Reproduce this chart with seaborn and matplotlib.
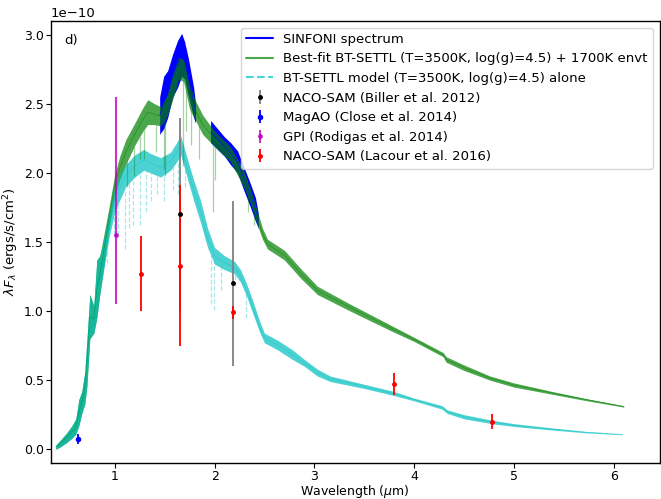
import numpy as np
import matplotlib
matplotlib.use('Agg')
import matplotlib.pyplot as plt
import seaborn as sns

# -------------------------------------------------
# data (flux in units of 1e-10 ergs/s/cm2)
# -------------------------------------------------
SCALE = 1e-10

# best-fit BT-SETTL + 1700K envelope : wavelength, lower / upper edge of noisy band
fit_wl = [0.41, 0.46, 0.52, 0.57, 0.61, 0.64, 0.67, 0.70, 0.72, 0.75, 0.79, 0.82,
          0.85, 0.89, 0.94, 1.00, 1.05, 1.11, 1.20, 1.28, 1.33, 1.40, 1.46, 1.52,
          1.58, 1.64, 1.69, 1.75, 1.81, 1.88, 1.96, 2.03, 2.16, 2.29, 2.36, 2.43,
          2.48, 2.53, 2.70, 2.86, 3.03, 3.36, 3.76, 4.00, 4.29, 4.32, 4.50, 4.76,
          5.00, 5.37, 5.70, 6.10]
fit_lo = [0.00, 0.02, 0.05, 0.08, 0.11, 0.17, 0.26, 0.33, 0.45, 0.80, 0.84, 0.95,
          1.12, 1.32, 1.58, 1.84, 1.95, 2.06, 2.20, 2.30, 2.35, 2.35, 2.34, 2.40,
          2.53, 2.68, 2.66, 2.46, 2.38, 2.28, 2.22, 2.17, 2.08, 1.90, 1.78, 1.62,
          1.52, 1.45, 1.37, 1.24, 1.12, 1.00, 0.86, 0.78, 0.67, 0.63, 0.57, 0.50,
          0.45, 0.40, 0.355, 0.305]
fit_hi = [0.03, 0.07, 0.12, 0.17, 0.22, 0.36, 0.42, 0.56, 0.78, 1.12, 1.04, 1.37,
          1.40, 1.55, 1.74, 1.99, 2.12, 2.24, 2.36, 2.47, 2.53, 2.50, 2.48, 2.56,
          2.72, 2.84, 2.82, 2.64, 2.52, 2.42, 2.34, 2.28, 2.19, 2.02, 1.88, 1.72,
          1.60, 1.52, 1.44, 1.31, 1.18, 1.05, 0.90, 0.81, 0.70, 0.67, 0.61, 0.53,
          0.48, 0.42, 0.37, 0.315]
fit_line_wl = [0.98, 1.12, 1.19, 1.25, 1.29, 1.41, 1.49, 1.50, 1.68, 1.71, 1.76,
               1.84, 1.98, 2.00, 2.33, 2.40]
fit_line_min = [1.75, 1.90, 1.98, 2.10, 2.10, 2.15, 2.03, 1.98, 2.05, 2.30, 2.20,
                2.10, 1.72, 1.95, 1.72, 1.62]

# BT-SETTL photosphere alone
mod_wl = [0.41, 0.46, 0.52, 0.57, 0.61, 0.64, 0.67, 0.70, 0.72, 0.75, 0.79, 0.82,
          0.85, 0.89, 0.94, 1.00, 1.06, 1.11, 1.20, 1.29, 1.36, 1.46, 1.56, 1.62,
          1.66, 1.72, 1.79, 1.86, 1.93, 2.00, 2.10, 2.20, 2.26, 2.32, 2.39, 2.45,
          2.50, 2.63, 2.78, 2.90, 3.03, 3.16, 3.50, 3.79, 4.00, 4.28, 4.33, 4.50,
          4.78, 5.00, 5.37, 5.70, 6.09]
mod_lo = [0.00, 0.02, 0.05, 0.08, 0.11, 0.17, 0.26, 0.33, 0.45, 0.80, 0.84, 0.95,
          1.12, 1.30, 1.52, 1.72, 1.82, 1.90, 1.97, 2.02, 2.00, 1.97, 2.02, 2.08,
          2.13, 1.98, 1.80, 1.64, 1.46, 1.34, 1.30, 1.27, 1.21, 1.11, 0.97, 0.85,
          0.77, 0.72, 0.65, 0.60, 0.53, 0.49, 0.44, 0.39, 0.35, 0.29, 0.26, 0.22,
          0.185, 0.165, 0.14, 0.12, 0.105]
mod_hi = [0.03, 0.07, 0.12, 0.17, 0.22, 0.36, 0.42, 0.56, 0.78, 1.12, 1.04, 1.37,
          1.40, 1.52, 1.70, 1.90, 2.00, 2.06, 2.13, 2.17, 2.14, 2.11, 2.15, 2.22,
          2.27, 2.12, 1.95, 1.80, 1.60, 1.46, 1.40, 1.36, 1.30, 1.20, 1.06, 0.93,
          0.84, 0.79, 0.72, 0.65, 0.58, 0.53, 0.47, 0.42, 0.37, 0.315, 0.285, 0.25,
          0.21, 0.185, 0.155, 0.13, 0.11]
mod_line_wl = [0.92, 0.99, 1.03, 1.10, 1.14, 1.18, 1.25, 1.31, 1.36, 1.42, 1.49,
               1.58, 1.63, 1.70, 1.96, 1.99, 2.06, 2.20, 2.31]
mod_line_min = [1.35, 1.55, 1.55, 1.45, 1.60, 1.62, 1.62, 1.72, 1.80, 1.85, 1.80,
                1.88, 1.85, 1.90, 1.05, 1.01, 1.15, 1.18, 0.95]

# SINFONI H and K band spectra
sinf_h_wl = [1.45, 1.49, 1.53, 1.58, 1.63, 1.67, 1.70, 1.74, 1.79, 1.81]
sinf_h_lo = [2.28, 2.32, 2.40, 2.55, 2.62, 2.70, 2.68, 2.55, 2.40, 2.36]
sinf_h_hi = [2.55, 2.70, 2.74, 2.86, 2.96, 3.01, 2.95, 2.82, 2.62, 2.50]
sinf_k_wl = [1.96, 2.03, 2.10, 2.16, 2.23, 2.29, 2.36, 2.41, 2.44]
sinf_k_lo = [2.22, 2.17, 2.12, 2.06, 2.00, 1.88, 1.75, 1.65, 1.60]
sinf_k_hi = [2.38, 2.32, 2.26, 2.22, 2.16, 2.05, 1.92, 1.82, 1.70]

# photometry
biller_wl = [1.65, 2.18]
biller_f = [1.70, 1.20]
biller_err = [0.70, 0.60]

close_wl = [0.63]
close_f = [0.075]
close_err = [0.035]

rodigas_wl = [1.01]
rodigas_f = [1.55]
rodigas_err_lo = [0.50]
rodigas_err_hi = [1.00]

lacour_wl = [1.26, 1.65, 2.18, 3.80, 4.78]
lacour_f = [1.27, 1.33, 0.99, 0.475, 0.20]
lacour_err = [0.27, 0.58, 0.045, 0.08, 0.055]


def sc(v):
    return np.asarray(v, dtype=float) * SCALE


def draw_band(ax, wl, lo, hi, color, alpha, label=None, ls='-'):
    wl = np.asarray(wl)
    ax.fill_between(wl, sc(lo), sc(hi), color=color, alpha=alpha, lw=0)
    sns.lineplot(x=wl, y=(sc(lo) + sc(hi)) / 2, color=color, alpha=alpha,
                 lw=0.4, ls=ls, label=label, ax=ax)


def draw_lines(ax, wl, lo, line_wl, line_min, color, alpha, ls='-'):
    top = np.interp(line_wl, wl, lo)
    ax.vlines(line_wl, sc(line_min), sc(top), color=color, alpha=alpha,
              lw=0.9, ls=ls)


# -------------------------------------------------
# plot
# -------------------------------------------------
sns.set_style('ticks', {'axes.edgecolor': 'black', 'xtick.color': 'black',
                        'ytick.color': 'black', 'text.color': 'black',
                        'axes.labelcolor': 'black'})
plt.rcParams['font.family'] = ['DejaVu Sans']

fig, ax = plt.subplots(figsize=(6.61, 4.99), dpi=100)
fig.subplots_adjust(left=0.077, right=0.998, top=0.958, bottom=0.072)

# SINFONI
draw_band(ax, sinf_h_wl, sinf_h_lo, sinf_h_hi, 'b', 1.0, 'SINFONI spectrum')
draw_band(ax, sinf_k_wl, sinf_k_lo, sinf_k_hi, 'b', 1.0)

# best fit
draw_band(ax, fit_wl, fit_lo, fit_hi, 'g', 0.7,
          'Best-fit BT-SETTL (T=3500K, log(g)=4.5) + 1700K envt')
draw_lines(ax, fit_wl, fit_lo, fit_line_wl, fit_line_min, 'g', 0.35)

# model alone
draw_band(ax, mod_wl, mod_lo, mod_hi, 'c', 0.7,
          'BT-SETTL model (T=3500K, log(g)=4.5) alone', ls='--')
draw_lines(ax, mod_wl, mod_lo, mod_line_wl, mod_line_min, 'c', 0.35, ls='--')

# photometry
ax.errorbar(biller_wl, sc(biller_f), yerr=sc(biller_err), fmt='.', color='k',
            ecolor='gray', ms=5, lw=1.3, label='NACO-SAM (Biller et al. 2012)')
ax.errorbar(close_wl, sc(close_f), yerr=sc(close_err), fmt='.', color='b',
            ms=6, lw=1.3, label='MagAO (Close et al. 2014)')
ax.errorbar(rodigas_wl, sc(rodigas_f), yerr=[sc(rodigas_err_lo), sc(rodigas_err_hi)],
            fmt='.', color='m', alpha=0.8, ms=5, lw=1.5,
            label='GPI (Rodigas et al. 2014)')
ax.errorbar(lacour_wl, sc(lacour_f), yerr=sc(lacour_err), fmt='.', color='r',
            ms=5, lw=1.3, label='NACO-SAM (Lacour et al. 2016)')

ax.set_xlim(0.36, 6.46)
ax.set_ylim(-0.10e-10, 3.10e-10)
ax.set_xticks([1, 2, 3, 4, 5, 6])
ax.set_yticks(np.array([0.0, 0.5, 1.0, 1.5, 2.0, 2.5, 3.0]) * SCALE)
ax.tick_params(labelsize=9, direction='out', length=3.5, width=0.8, pad=1.5)
ax.yaxis.get_offset_text().set_fontsize(9.5)

ax.set_xlabel(r'Wavelength ($\mu$m)', fontsize=9, labelpad=0)
ax.set_ylabel(r'$\lambda F_\lambda$ (ergs/s/cm$^2$)', fontsize=9.5, labelpad=2)

ax.text(0.022, 0.955, 'd)', transform=ax.transAxes, fontsize=9.5,
        ha='left', va='center')

for side in ['top', 'right', 'left', 'bottom']:
    ax.spines[side].set_visible(True)
    ax.spines[side].set_linewidth(1.0)

leg = ax.legend(loc='upper right', fontsize=9.5, handlelength=2.0,
                borderaxespad=0.5, labelspacing=0.5)
for line in leg.get_lines()[:3]:
    line.set_linewidth(1.5)

fig.savefig('out.png', dpi=100)
